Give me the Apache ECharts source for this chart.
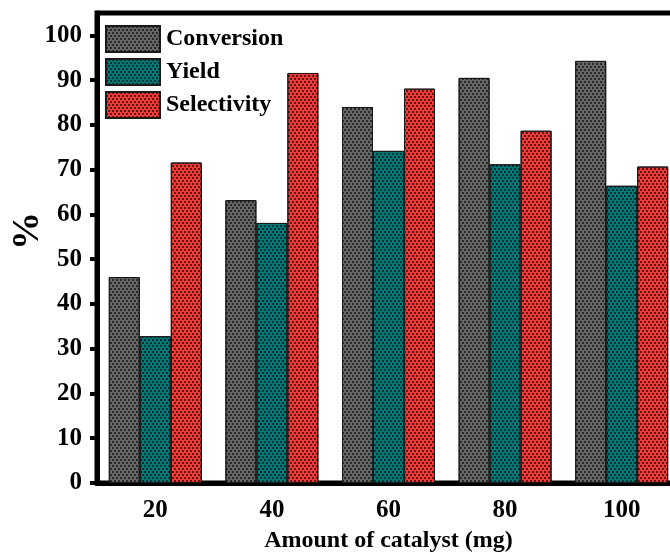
<!DOCTYPE html>
<html>
<head>
<meta charset="utf-8">
<script src="https://cdn.jsdelivr.net/npm/echarts@6/dist/echarts.min.js"></script>
<style>
  html, body { margin: 0; padding: 0; background: #fff; }
  #chart { width: 670px; height: 553px; }
</style>
</head>
<body>
<div id="chart"></div>
<script>
// data
const amounts = ['20', '40', '60', '80', '100'];
const conversion = [46.0, 63.2, 84.0, 90.5, 94.3];
const yieldVals = [32.8, 58.1, 74.2, 71.2, 66.4];
const selectivity = [71.6, 91.6, 88.1, 78.7, 70.7];
const yTicks = [0, 10, 20, 30, 40, 50, 60, 70, 80, 90, 100];

const font = "'Liberation Serif', 'Times New Roman', serif";

let chart = echarts.init(document.getElementById('chart'));

// dotted texture like the original hatch fill
function texture() {
    return {
        symbol: 'rect',
        symbolSize: 1,
        color: 'rgba(0,0,0,0.6)',
        dashArrayX: [[2, 2], [0, 2, 2, 0]],
        dashArrayY: [2, 1],
        rotation: 0
    };
}

function barSeries(name, data, color) {
    return {
        name: name,
        type: 'bar',
        data: data,
        barWidth: 31,
        barGap: '0%',
        itemStyle: {
            color: color,
            borderColor: '#1a1a1a',
            borderWidth: 1,
            decal: texture()
        }
    };
}

const option = {
    animation: false,
    aria: { enabled: true, decal: { show: true } },
    grid: {
        left: 97,
        right: -10,
        top: 13,
        bottom: 70,
        outerBoundsMode: 'none',
        containLabel: false,
        show: true,
        borderColor: '#000',
        borderWidth: 5
    },
    legend: {
        left: 100,
        top: 20,
        orient: 'vertical',
        icon: 'rect',
        itemWidth: 54,
        itemHeight: 26,
        itemGap: 5,
        selectedMode: false,
        textStyle: {
            fontFamily: font,
            fontWeight: 'bold',
            fontSize: 24,
            color: '#000',
            padding: [0, 0, 0, 1]
        },
        data: ['Conversion', 'Yield', 'Selectivity']
    },
    xAxis: {
        type: 'category',
        data: amounts,
        name: 'Amount of catalyst (mg)',
        nameLocation: 'middle',
        nameGap: 46,
        nameTextStyle: {
            fontFamily: font,
            fontWeight: 'bold',
            fontSize: 24,
            color: '#000'
        },
        axisLine: { lineStyle: { color: '#000', width: 5 } },
        axisTick: {
            alignWithLabel: true,
            length: 7,
            lineStyle: { color: '#000', width: 4 }
        },
        axisLabel: {
            margin: 15,
            fontFamily: font,
            fontWeight: 'bold',
            fontSize: 25,
            color: '#000'
        },
        splitLine: { show: false }
    },
    yAxis: {
        type: 'value',
        min: 0,
        max: 105,
        interval: 10,
        name: '%',
        nameLocation: 'middle',
        nameRotate: 90,
        nameGap: 50,
        nameMoveOverlap: false,
        nameTextStyle: {
            fontFamily: font,
            fontWeight: 'bold',
            fontSize: 38,
            color: '#000',
            padding: [0, 0, 0, 34]
        },
        axisLine: { show: true, lineStyle: { color: '#000', width: 5 } },
        axisTick: {
            show: true,
            length: 7,
            customValues: yTicks,
            lineStyle: { color: '#000', width: 4 }
        },
        axisLabel: {
            margin: 15,
            customValues: yTicks,
            fontFamily: font,
            fontWeight: 'bold',
            fontSize: 25,
            color: '#000'
        },
        splitLine: { show: false }
    },
    series: [
        barSeries('Conversion', conversion, '#666666'),
        barSeries('Yield', yieldVals, '#007a78'),
        barSeries('Selectivity', selectivity, '#f03a36')
    ]
};

chart.setOption(option);
</script>
</body>
</html>
